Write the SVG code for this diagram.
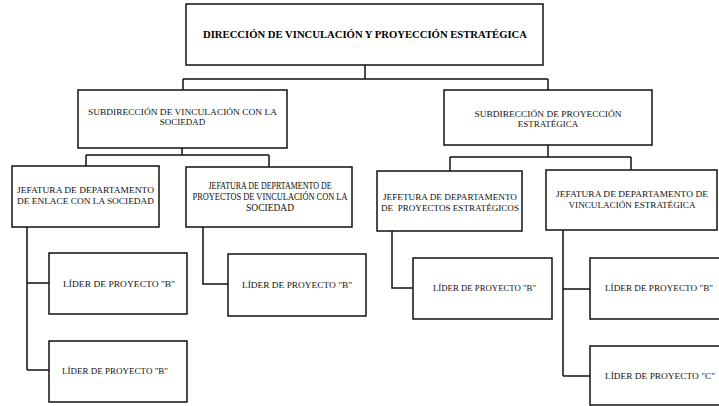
<svg xmlns="http://www.w3.org/2000/svg" width="719" height="406" viewBox="0 0 719 406">
<style>
.box{fill:#fff;stroke:#111;stroke-width:1.5}
.ln{fill:none;stroke:#111;stroke-width:1.5}
text{font-family:"Liberation Serif","Times New Roman",serif;font-size:9px;fill:#111;text-anchor:middle}
.b{font-weight:bold;font-size:10px;fill:#000}
</style>
<rect width="719" height="406" fill="#fff"/>
<g id="connectors">
<path class="ln" d="M365,65V79M183,79H548M183,79V90M548,79V90"/>
<path class="ln" d="M182,148V155M86,155H269M86,155V166M269,155V167"/>
<path class="ln" d="M27,227V370M27,283H49M27,370H49"/>
<path class="ln" d="M203,227V284H228"/>
<path class="ln" d="M548,145V157M450,157H631M450,157V171M631,157V170"/>
<path class="ln" d="M392,231V288H413"/>
<path class="ln" d="M563,230V376M563,289H590M563,376H590"/>
</g>
<g id="n-direccion">
<rect class="box" x="186" y="4" width="357" height="61"/>
<text class="b" x="365" y="38" textLength="324" lengthAdjust="spacingAndGlyphs">DIRECCIÓN DE VINCULACIÓN Y PROYECCIÓN ESTRATÉGICA</text>
</g>
<g id="n-sub-vinculacion">
<rect class="box" x="78" y="90" width="209" height="58"/>
<text x="182.5" y="115" textLength="189" lengthAdjust="spacingAndGlyphs">SUBDIRECCIÓN DE VINCULACIÓN CON LA</text>
<text x="182.5" y="125">SOCIEDAD</text>
</g>
<g id="n-sub-proyeccion">
<rect class="box" x="444" y="90" width="208" height="55"/>
<text x="548" y="117" textLength="147" lengthAdjust="spacingAndGlyphs">SUBDIRECCIÓN DE PROYECCIÓN</text>
<text x="548" y="127">ESTRATÉGICA</text>
</g>
<g id="n-jef-enlace">
<rect class="box" x="12" y="166" width="147" height="61"/>
<text x="85.5" y="193" textLength="137" lengthAdjust="spacingAndGlyphs">JEFATURA DE DEPARTAMENTO</text>
<text x="85.5" y="204" textLength="137" lengthAdjust="spacingAndGlyphs">DE ENLACE CON LA SOCIEDAD</text>
</g>
<g id="n-jef-proyectos-vinc">
<rect class="box" x="186" y="167" width="166" height="60"/>
<text x="270" y="189" style="font-size:9.5px" textLength="123" lengthAdjust="spacingAndGlyphs">JEFATURA DE DEPRTAMENTO DE</text>
<text x="270" y="200" style="font-size:9.5px" textLength="155" lengthAdjust="spacingAndGlyphs">PROYECTOS DE VINCULACIÓN CON LA</text>
<text x="270" y="211" style="font-size:9.5px">SOCIEDAD</text>
</g>
<g id="n-jef-proyectos-estr">
<rect class="box" x="377" y="171" width="145" height="60"/>
<text x="450" y="200" textLength="134" lengthAdjust="spacingAndGlyphs">JEFETURA DE DEPARTAMENTO</text>
<text x="450" y="211" textLength="138" lengthAdjust="spacingAndGlyphs" xml:space="preserve">DE  PROYECTOS ESTRATÉGICOS</text>
</g>
<g id="n-jef-vinc-estr">
<rect class="box" x="546" y="170" width="171" height="60"/>
<text x="632" y="197" textLength="152" lengthAdjust="spacingAndGlyphs">JEFATURA DE DEPARTAMENTO DE</text>
<text x="632" y="208" textLength="127" lengthAdjust="spacingAndGlyphs">VINCULACIÓN ESTRATÉGICA</text>
</g>
<g id="n-lider-1">
<rect class="box" x="49" y="253" width="138" height="61"/>
<text x="119" y="287" textLength="112" lengthAdjust="spacingAndGlyphs">LÍDER DE PROYECTO "B"</text>
</g>
<g id="n-lider-2">
<rect class="box" x="49" y="341" width="138" height="61"/>
<text x="115" y="374" textLength="106" lengthAdjust="spacingAndGlyphs">LÍDER DE PROYECTO "B"</text>
</g>
<g id="n-lider-3">
<rect class="box" x="228" y="254" width="138" height="62"/>
<text x="297" y="288" textLength="110" lengthAdjust="spacingAndGlyphs">LÍDER DE PROYECTO "B"</text>
</g>
<g id="n-lider-4">
<rect class="box" x="413" y="258" width="139" height="61"/>
<text x="484.5" y="291" textLength="103" lengthAdjust="spacingAndGlyphs">LÍDER DE PROYECTO "B"</text>
</g>
<g id="n-lider-5">
<rect class="box" x="590" y="258" width="140" height="61"/>
<text x="659" y="291" textLength="108" lengthAdjust="spacingAndGlyphs">LÍDER DE PROYECTO "B"</text>
</g>
<g id="n-lider-6">
<rect class="box" x="590" y="346" width="140" height="59"/>
<text x="660" y="379" textLength="110" lengthAdjust="spacingAndGlyphs">LÍDER DE PROYECTO "C"</text>
</g>
</svg>
